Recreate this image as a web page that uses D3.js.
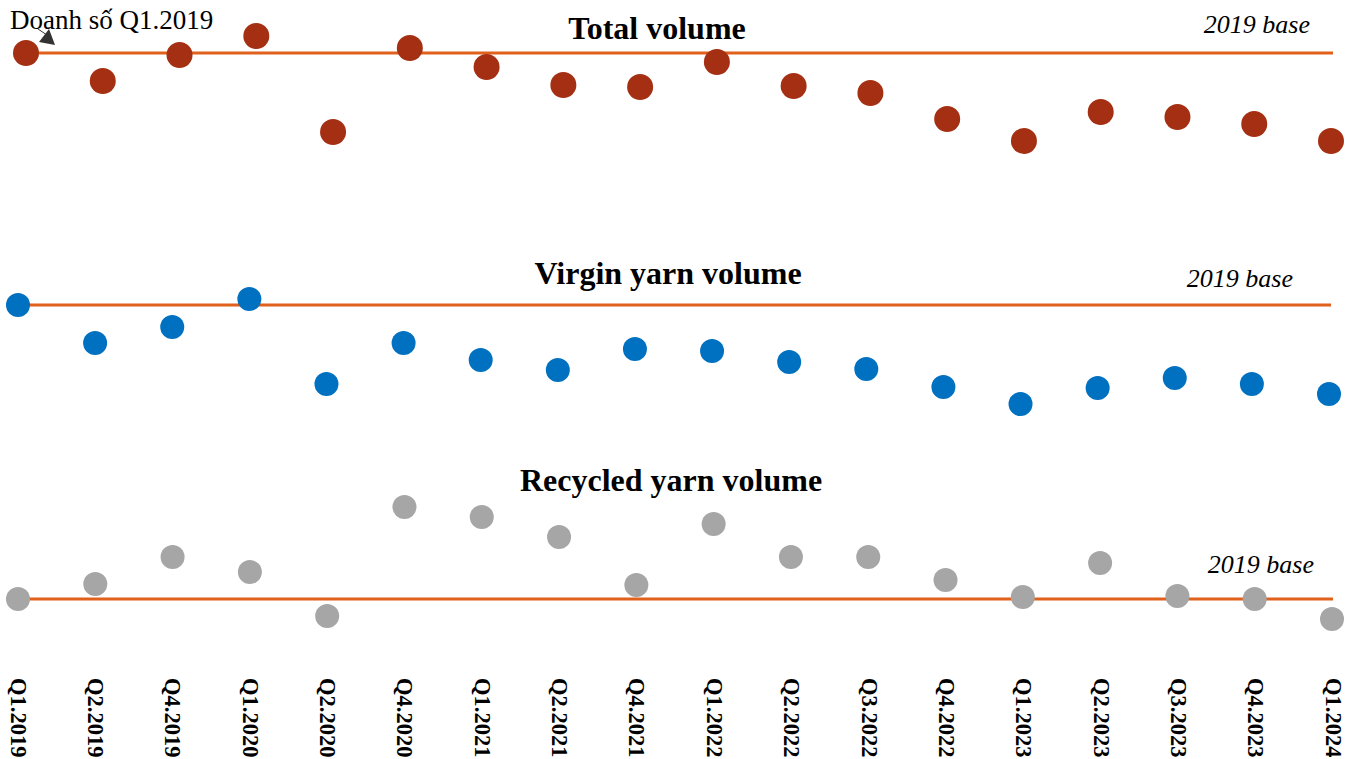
<!DOCTYPE html>
<html>
<head>
<meta charset="utf-8">
<script src="https://cdn.jsdelivr.net/npm/d3@7"></script>
<style>
  html, body { margin: 0; padding: 0; background: #fff; }
  svg { display: block; }
</style>
</head>
<body>
<div id="chart"></div>
<script>
// ---- data (index, 2019 base = 100) ----
const quarters = ["Q1.2019","Q2.2019","Q4.2019","Q1.2020","Q2.2020","Q4.2020","Q1.2021","Q2.2021","Q4.2021",
                  "Q1.2022","Q2.2022","Q3.2022","Q4.2022","Q1.2023","Q2.2023","Q3.2023","Q4.2023","Q1.2024"];
const totalVolume    = [100, 94.4, 99.6, 103.4, 84.2, 101.0, 97.2, 93.6, 93.2, 98.2, 93.4, 92.0, 86.8, 82.4, 88.2, 87.2, 85.8, 82.4];
const virginVolume   = [100, 92.4, 95.6, 101.2, 84.2, 92.4, 89.0, 87.0, 91.2, 90.8, 88.6, 87.2, 83.6, 80.2, 83.4, 85.4, 84.2, 82.2];
const recycledVolume = [100, 103.0, 108.4, 105.4, 96.6, 118.4, 116.4, 112.4, 102.8, 115.0, 108.4, 108.4, 103.8, 100.4, 107.2, 100.6, 100.0, 96.0];
const baseValue = 100;
const panelTitles = ["Total volume", "Virgin yarn volume", "Recycled yarn volume"];
const baseLabel = "2019 base";
const annotationText = "Doanh số Q1.2019";

// ---- layout ----
const W = 1352, H = 759;
const svg = d3.select("#chart").append("svg").attr("width", W).attr("height", H);
const serif = "'Liberation Serif', 'Times New Roman', serif";
const lineColor = "#E0601C";

const panels = [
  { values: totalVolume,    color: "#A52F12", r: 13, x0: 26, x1: 1331, lx0: 26, lx1: 1333, base: 53,
    title: panelTitles[0], tx: 657, ty: 39, ts: 32, bx: 1310, by: 33 },
  { values: virginVolume,   color: "#0070C0", r: 12, x0: 18, x1: 1329, lx0: 18, lx1: 1331, base: 305,
    title: panelTitles[1], tx: 668, ty: 284, ts: 32, bx: 1293, by: 287 },
  { values: recycledVolume, color: "#A6A6A6", r: 12, x0: 18, x1: 1332, lx0: 18, lx1: 1333, base: 599,
    title: panelTitles[2], tx: 671, ty: 491, ts: 32, bx: 1314, by: 573 }
];

panels.forEach(p => {
  const x = d3.scalePoint().domain(quarters).range([p.x0, p.x1]);
  const y = d3.scaleLinear().domain([80, 120]).range([p.base + 100, p.base - 100]);
  const g = svg.append("g");

  g.append("line")
    .attr("x1", p.lx0).attr("x2", p.lx1)
    .attr("y1", y(baseValue)).attr("y2", y(baseValue))
    .attr("stroke", lineColor).attr("stroke-width", 3);

  g.selectAll("circle").data(p.values).join("circle")
    .attr("cx", (d, i) => x(quarters[i]))
    .attr("cy", d => y(d))
    .attr("r", p.r)
    .attr("fill", p.color);

  g.append("text")
    .attr("x", p.tx).attr("y", p.ty)
    .attr("text-anchor", "middle")
    .attr("font-family", serif).attr("font-weight", "bold")
    .attr("font-size", p.ts)
    .attr("fill", "#000")
    .text(p.title);

  g.append("text")
    .attr("x", p.bx).attr("y", p.by)
    .attr("text-anchor", "end")
    .attr("font-family", serif).attr("font-style", "italic")
    .attr("font-size", 26)
    .attr("fill", "#000")
    .text(baseLabel);
});

// ---- annotation ----
svg.append("text")
  .attr("x", 10).attr("y", 29)
  .attr("font-family", serif).attr("font-size", 27)
  .attr("fill", "#000")
  .text(annotationText);
svg.append("line")
  .attr("x1", 38).attr("y1", 29).attr("x2", 50).attr("y2", 37)
  .attr("stroke", "#333").attr("stroke-width", 1);
svg.append("path")
  .attr("d", "M39,42 L49,29 L55,45 Z")
  .attr("fill", "#333");

// ---- x axis labels ----
const xAxisScale = d3.scalePoint().domain(quarters).range([18, 1333]);
const axis = svg.append("g")
  .attr("transform", "translate(0,672)")
  .call(d3.axisBottom(xAxisScale).tickSize(0));
axis.select(".domain").remove();
axis.selectAll("text")
  .attr("transform", "rotate(90)")
  .attr("x", 6).attr("y", 0)
  .attr("dy", "0.35em")
  .attr("text-anchor", "start")
  .attr("font-family", serif)
  .attr("font-weight", "bold")
  .attr("font-size", 22.5)
  .attr("fill", "#000");
</script>
</body>
</html>
